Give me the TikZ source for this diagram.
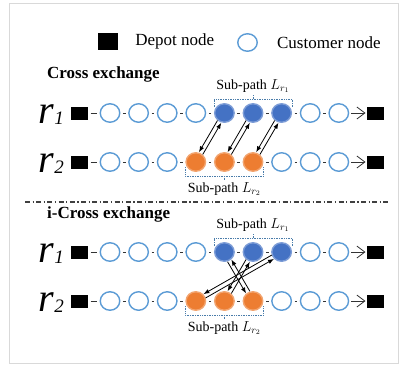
\documentclass[tikz,border=0pt]{standalone}
\usepackage{fontspec}
\setmainfont{Liberation Serif}
\usetikzlibrary{positioning,arrows.meta,shapes.geometric,calc}

\definecolor{custblue}{HTML}{5B9BD5}
\definecolor{subblue}{HTML}{4472C4}
\definecolor{suborange}{HTML}{ED7D31}

\begin{document}
\begin{tikzpicture}[x=1pt,y=-1pt]
	\tikzset{
		depot/.style={fill=black,minimum width=17pt,minimum height=13pt,inner sep=0pt},
		cust/.style={ellipse,draw=custblue,line width=1.4pt,minimum width=19.5pt,minimum height=18.5pt,inner sep=0pt},
		link/.style={draw=black!80,line width=0.8pt,shorten <=2.5pt,shorten >=2.5pt},
		xarr/.style={-{Latex[length=6pt,width=4.5pt]},line width=0.8pt,shorten <=10pt,shorten >=10pt},
		bracket/.style={draw=custblue!80!black,densely dotted,line width=0.7pt},
		subtext/.style={font=\fontsize{14}{16}\selectfont,inner sep=1pt},
		legtext/.style={font=\fontsize{17}{20}\selectfont,inner sep=0pt},
		sectitle/.style={font=\fontsize{17}{20}\selectfont\bfseries,anchor=base west,inner sep=0pt},
		routelab/.style={font=\fontsize{40}{40}\selectfont\itshape,anchor=base east,inner sep=0pt}
	}
	\useasboundingbox (0,0) rectangle (403,367);
	\draw[black!15,line width=0.8pt] (9,3) rectangle (398,363);

	%% legend
	\node[depot,minimum width=20pt,minimum height=17pt] (legdep) at (108,41.5) {};
	\node[legtext,right=17pt of legdep] (legdeptxt) {Depot node};
	\node[cust,minimum width=19.5pt,minimum height=17.5pt] (legcust) at (247.5,42.5) {};
	\node[legtext,right=19pt of legcust] (legcusttxt) {Customer node};

	%% section titles and separator
	\node[sectitle] (ttlcross) at (47,78.5) {Cross exchange};
	\node[sectitle] (ttlicross) at (47,218) {i-Cross exchange};
	\coordinate (sepL) at (25,202);
	\coordinate (sepR) at (388,202);
	\draw[black!75,line width=1.1pt,dash pattern=on 5pt off 2.5pt on 1.2pt off 2.5pt] (sepL) -- (sepR);

	%% route labels
	\foreach \r/\y/\n in {ca/123/1,cb/172/2,ia/262/1,ib/311/2}
		\node[routelab] (\r-lab) at (64,\y) {r\raisebox{-1pt}{\fontsize{19}{19}\selectfont \n}};

	%% routes
	\foreach \r/\y/\k/\f in {ca/113/5/subblue,cb/162/4/suborange,ia/252/5/subblue,ib/301/4/suborange} {
		\node[depot] (\r-s) at (79.5,\y) {};
		\foreach \i in {1,...,9} {
			\pgfmathtruncatemacro\isf{(\i>=\k)&&(\i<=\k+2)}
			\ifnum\isf=1 \def\fc{\f}\def\dc{\f!70!white}\else\def\fc{white}\def\dc{custblue}\fi
			\node[cust,fill=\fc,draw=\dc] (\r-\i) at (81.4+28.6*\i,\y) {};
		}
		\node[depot] (\r-e) at (375,\y) {};
		\draw[link] (\r-s) -- (\r-1);
		\foreach \i [count=\j from 2] in {1,...,8}
			\draw[link] (\r-\i) -- (\r-\j);
		\draw[link,shorten <=2pt,shorten >=0.8pt,-{Straight Barb[length=8pt,width=12pt]}] (\r-9) -- (\r-e);
	}

	%% sub-paths
	\foreach \a/\b in {ca/cb,ia/ib} {
		\coordinate (\a-br) at ([yshift=14pt]\a-6.center);
		\draw[bracket] ([yshift=6pt]\a-5.west) |- (\a-br) -| ([yshift=6pt]\a-7.east);
		\node[subtext,above=5pt of \a-br] (\a-sub) {Sub-path $L_{r_1}$};
		\draw[bracket] (\a-br) -- (\a-sub);
		\coordinate (\b-br) at ([yshift=-14pt]\b-5.center);
		\draw[bracket] ([yshift=-5pt]\b-4.west) |- (\b-br) -| ([yshift=-5pt]\b-6.east);
		\node[subtext,below=5pt of \b-br] (\b-sub) {Sub-path $L_{r_2}$};
		\draw[bracket] (\b-br) -- (\b-sub);
	}

	%% exchange arrows
	\foreach \a/\b in {ca-5/cb-4,ca-6/cb-5,ca-7/cb-6,ia-5/ib-6,ia-6/ib-5,ia-7/ib-4} {
		\draw[xarr] ($(\a.center)!2.2pt!-90:(\b.center)$) -- ($(\b.center)!2.2pt!90:(\a.center)$);
		\draw[xarr] ($(\b.center)!2.2pt!-90:(\a.center)$) -- ($(\a.center)!2.2pt!90:(\b.center)$);
	}
\end{tikzpicture}
\end{document}
